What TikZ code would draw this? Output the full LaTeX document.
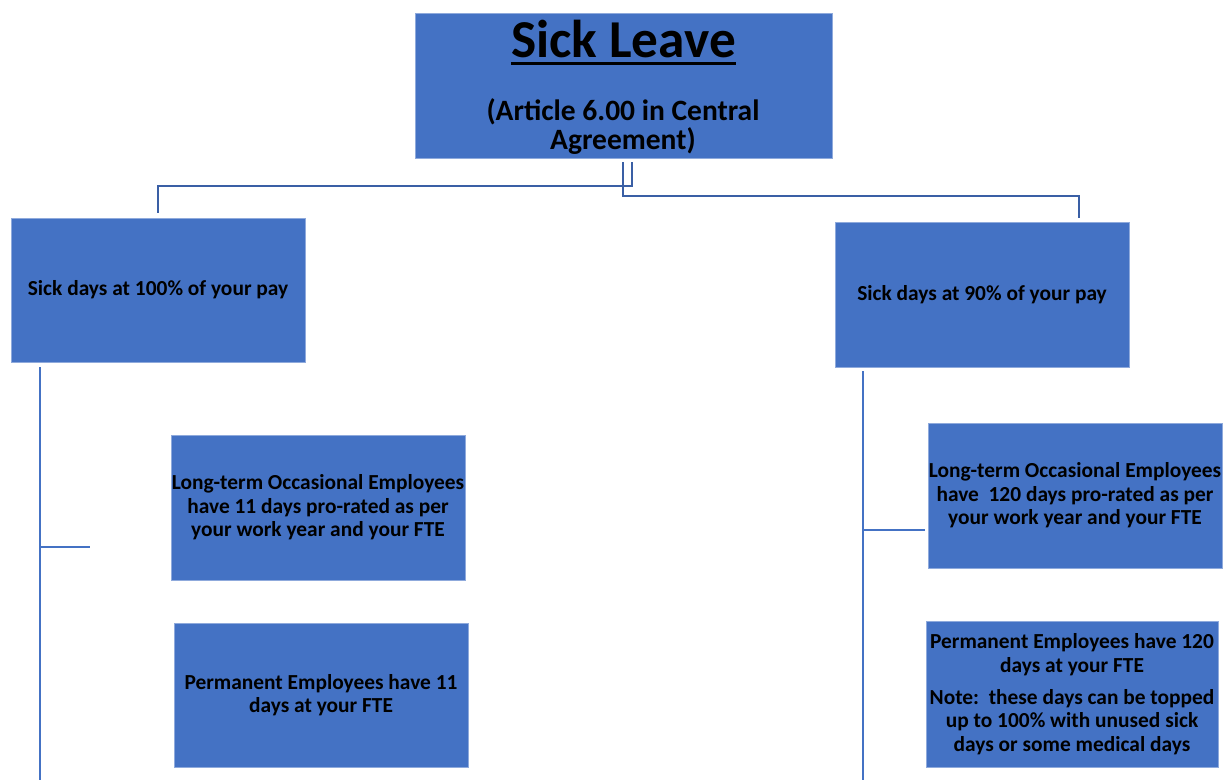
\documentclass[tikz,border=0pt]{standalone}
\usepackage{fontspec}
\setmainfont{Carlito}
\definecolor{boxblue}{HTML}{4472C4}
\definecolor{boxedge}{HTML}{8FAADC}
\definecolor{linedark}{HTML}{3A5FA5}
\definecolor{lineblue}{HTML}{4472C4}
\begin{document}
\begin{tikzpicture}[x=1pt,y=-1pt,
  box/.style={rectangle, fill=boxblue, draw=boxedge, line width=0.6pt, inner sep=0pt, align=center, text=black,
    font=\bfseries\fontsize{21.4}{23.5}\selectfont},
  conn/.style={draw=linedark, line width=2pt},
  branch/.style={draw=lineblue, line width=2.2pt}]
\useasboundingbox (0,0) rectangle (1224,780);
\fill[white] (0,0) rectangle (1224,780);
% boxes
\node[box, minimum width=417pt, minimum height=145pt] (top) at (623.5,85.5) {};
\node[anchor=base, font=\bfseries\fontsize{53.3}{58}\selectfont, inner sep=0pt] (title) at (623.5,57.6) {Sick Leave};
\draw[line width=2.7pt] ([yshift=-6pt]title.base west) -- ([yshift=-6pt]title.base east);
\node[anchor=base, align=center, font=\bfseries\fontsize{29.5}{28.5}\selectfont, inner sep=0pt] (sub) at (623,149) {(Article 6.00 in Central\\Agreement)};
\node[box, minimum width=294pt, minimum height=144pt] (l1) at (158,290) {Sick days at 100\% of your pay};
\node[box, minimum width=294pt, minimum height=145pt] (r1) at (982,294.5) {Sick days at 90\% of your pay};
\node[box, minimum width=294pt, minimum height=145pt] (l2) at (318,507.5) {Long-term Occasional Employees\\have 11 days pro-rated as per\\your work year and your FTE};
\node[box, minimum width=294pt, minimum height=144pt] (l3) at (321,695) {Permanent Employees have 11\\days at your FTE};
\node[box, minimum width=294pt, minimum height=145pt] (r2) at (1075,495.5) {Long-term Occasional Employees\\have\ \ 120 days pro-rated as per\\your work year and your FTE};
\node[box, minimum width=292pt, minimum height=146pt] (r3) at (1072,694) {Permanent Employees have 120\\days at your FTE\\[8.5pt]Note:\ \ these days can be topped\\up to 100\% with unused sick\\days or some medical days};
% top connectors
\coordinate (jl) at (632,186);
\coordinate (jr) at (623,196);
\coordinate (rend) at (1079,218);
\draw[conn] ([yshift=-4pt]top.south -| jl) -- (jl) -| ([yshift=5pt]l1.north);
\draw[conn] ([yshift=-4pt]top.south -| jr) -- (jr) -| (rend);
% left branch
\coordinate (lb) at (40,780);
\coordinate (lt) at (90,547);
\draw[branch] ([yshift=-5pt]l1.south -| lb) -- (lb);
\draw[branch] (lt -| lb) -- (lt);
% right branch
\coordinate (rb) at (863,780);
\coordinate (rt) at (925,530);
\draw[branch] ([yshift=-4pt]r1.south -| rb) -- (rb);
\draw[branch] (rt -| rb) -- (rt);
\end{tikzpicture}
\end{document}
